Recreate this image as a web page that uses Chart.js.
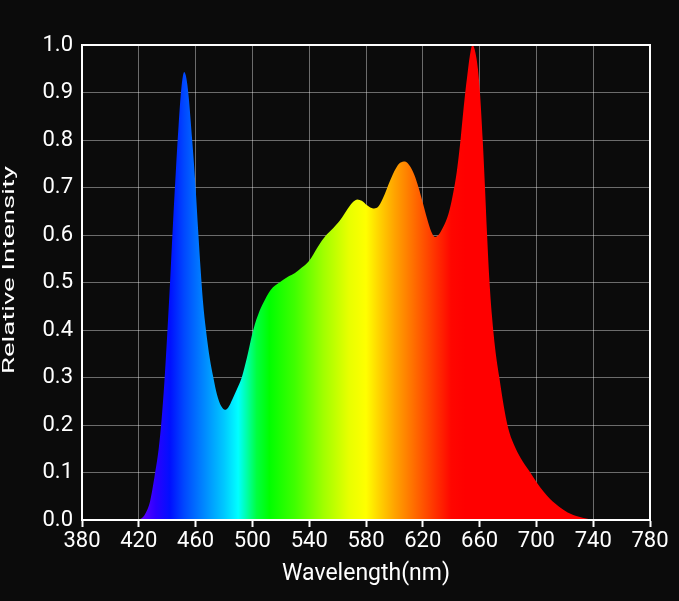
<!DOCTYPE html>
<html>
<head>
<meta charset="utf-8">
<script src="https://cdn.jsdelivr.net/npm/chart.js@4/dist/chart.umd.min.js"></script>
<style>
  html, body { margin: 0; padding: 0; background: #0b0b0b; }
  #wrap { width: 679px; height: 601px; }
</style>
</head>
<body>
<div id="wrap"><canvas id="c" width="679" height="601"></canvas></div>
<script>
// ---- data ----
const wavelengths = [420, 424, 428, 431, 434, 436, 438, 440, 442, 444, 446, 448, 450, 452, 453.5, 455, 457.6, 460, 461.8, 463.5, 465.2, 467.3, 470, 472.5, 475, 478, 480.7, 483, 486, 489, 492.5, 496, 500.6, 505, 509, 513, 519, 525, 530, 535, 540, 546, 552, 557, 562, 567, 571, 574, 577, 581, 585, 588, 592, 597, 601, 604, 607.5, 611, 614, 617, 620, 623, 626, 628.6, 631, 634, 637, 639, 641.5, 644, 646.2, 648, 649.7, 651.5, 653, 655, 657, 658.8, 660.3, 662.2, 663.8, 665.2, 666.8, 668.7, 671, 673.9, 677, 680, 684, 689, 695, 700, 705, 710, 716, 722, 730, 740];
const intensity   = [0.0, 0.01, 0.04, 0.09, 0.15, 0.21, 0.29, 0.39, 0.50, 0.62, 0.73, 0.83, 0.91, 0.943, 0.93, 0.895, 0.80, 0.70, 0.61, 0.53, 0.46, 0.40, 0.34, 0.30, 0.265, 0.24, 0.232, 0.237, 0.255, 0.275, 0.30, 0.34, 0.40, 0.44, 0.465, 0.485, 0.50, 0.512, 0.52, 0.532, 0.546, 0.575, 0.60, 0.615, 0.632, 0.655, 0.670, 0.675, 0.672, 0.662, 0.656, 0.658, 0.678, 0.715, 0.74, 0.752, 0.755, 0.745, 0.727, 0.70, 0.668, 0.635, 0.607, 0.596, 0.60, 0.615, 0.635, 0.655, 0.69, 0.735, 0.79, 0.845, 0.895, 0.94, 0.975, 1.0, 0.985, 0.95, 0.898, 0.80, 0.70, 0.605, 0.51, 0.43, 0.36, 0.30, 0.24, 0.195, 0.16, 0.13, 0.103, 0.08, 0.06, 0.043, 0.028, 0.016, 0.007, 0.0];
const xTickValues = [380, 420, 460, 500, 540, 580, 620, 660, 700, 740, 780];
const yTickValues = [0.0, 0.1, 0.2, 0.3, 0.4, 0.5, 0.6, 0.7, 0.8, 0.9, 1.0];
const xTitle = 'Wavelength(nm)';
const yTitle = 'Relative Intensity';

// ---- spectrum colour stops (style) ----
const spectrumStops = [
  [420, '#6a00ff'], [432, '#2a00ff'], [442, '#0010ff'], [452, '#0048ff'],
  [466, '#0088ff'], [480, '#00c8ff'], [490, '#00ffff'], [496, '#00ffa8'],
  [503, '#00ff40'], [512, '#00ff00'], [530, '#40ff00'], [550, '#a0ff00'],
  [568, '#e8ff00'], [580, '#ffff00'], [590, '#ffd000'], [600, '#ffa400'],
  [614, '#ff6c00'], [628, '#ff3400'], [640, '#ff0600'], [650, '#ff0000'], [780, '#ff0000']
];

const points = wavelengths.map((w, i) => ({ x: w, y: intensity[i] }));

function spectrumFill(context) {
  const chart = context.chart;
  const area = chart.chartArea;
  if (!area) return '#ff0000';
  const xs = chart.scales.x;
  const x0 = xs.getPixelForValue(380), x1 = xs.getPixelForValue(780);
  const g = chart.ctx.createLinearGradient(x0, 0, x1, 0);
  spectrumStops.forEach(([nm, col]) => g.addColorStop((nm - 380) / 400, col));
  return g;
}

const bgPlugin = {
  id: 'bg',
  beforeDraw(chart) {
    const ctx = chart.ctx;
    ctx.save();
    ctx.fillStyle = '#0b0b0b';
    ctx.fillRect(0, 0, chart.width, chart.height);
    ctx.restore();
  }
};
const framePlugin = {
  id: 'frame',
  afterDraw(chart) {
    const a = chart.chartArea, ctx = chart.ctx;
    ctx.save();
    ctx.strokeStyle = '#ffffff';
    ctx.lineWidth = 2;
    ctx.strokeRect(a.left, a.top, a.right - a.left, a.bottom - a.top);
    ctx.restore();
  }
};
// y-axis title drawn as real text, stretched along its reading direction like the reference
const yTitlePlugin = {
  id: 'ytitle',
  afterDraw(chart) {
    const ctx = chart.ctx;
    ctx.save();
    ctx.font = '17px Roboto, "Noto Sans", sans-serif';
    ctx.fillStyle = '#ffffff';
    ctx.textAlign = 'center';
    ctx.textBaseline = 'middle';
    const w = ctx.measureText(yTitle).width;
    const targetLen = 208;
    ctx.translate(10, 270);
    ctx.rotate(-Math.PI / 2);
    ctx.scale(targetLen / w, 1);
    ctx.fillText(yTitle, 0, 0);
    ctx.restore();
  }
};

Chart.defaults.font.family = 'Roboto, "Noto Sans", sans-serif';
Chart.defaults.color = '#ffffff';

new Chart(document.getElementById('c'), {
  type: 'line',
  data: {
    datasets: [{
      label: 'Relative Intensity',
      data: points,
      fill: 'origin',
      backgroundColor: spectrumFill,
      borderWidth: 0,
      borderColor: 'rgba(0,0,0,0)',
      pointRadius: 0,
      cubicInterpolationMode: 'monotone'
    }]
  },
  options: {
    responsive: false,
    animation: false,
    layout: { padding: { top: 45, right: 29, left: 0, bottom: 0 } },
    plugins: { legend: { display: false }, tooltip: { enabled: false } },
    scales: {
      x: {
        type: 'linear', min: 380, max: 780,
        afterBuildTicks: s => { s.ticks = xTickValues.map(v => ({ value: v })); },
        afterFit: s => { s.height = 81; },
        ticks: { color: '#ffffff', font: { size: 22 }, padding: 1, maxRotation: 0 },
        grid: { color: 'rgba(255,255,255,0.4)', tickColor: '#ffffff', tickLength: 7, tickWidth: 2 },
        border: { color: '#ffffff', width: 2 },
        title: { display: true, text: xTitle, color: '#ffffff', font: { size: 23 }, padding: { top: 0, bottom: 13 } }
      },
      y: {
        min: 0, max: 1,
        afterBuildTicks: s => { s.ticks = yTickValues.map(v => ({ value: v })); },
        afterFit: s => { s.width = 82; },
        ticks: { color: '#ffffff', font: { size: 22 }, padding: 9, callback: v => v.toFixed(1) },
        grid: { color: 'rgba(255,255,255,0.4)', drawTicks: false, tickLength: 0 },
        border: { color: '#ffffff', width: 2 },
        title: { display: false, text: yTitle }
      }
    }
  },
  plugins: [bgPlugin, framePlugin, yTitlePlugin]
});
</script>
</body>
</html>
